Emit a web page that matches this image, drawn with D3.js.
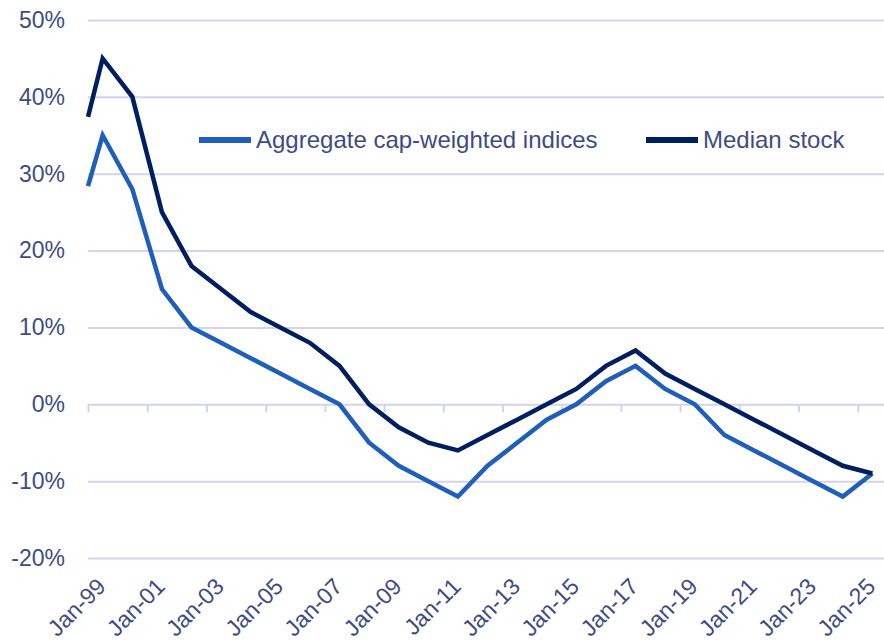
<!DOCTYPE html>
<html>
<head>
<meta charset="utf-8">
<script src="https://cdn.jsdelivr.net/npm/d3@7"></script>
<style>
  html, body { margin: 0; padding: 0; background: #fff; }
  .chart-holder { width: 884px; height: 642px; }
</style>
</head>
<body>
<div class="chart-holder"></div>
<script>
// observation dates (first point Jan-99, then mid-year readings)
const dates = [
  '1999-01-01', '1999-07-01', '2000-07-01', '2001-07-01', '2002-07-01', '2003-07-01',
  '2004-07-01', '2005-07-01', '2006-07-01', '2007-07-01', '2008-07-01', '2009-07-01',
  '2010-07-01', '2011-07-01', '2012-07-01', '2013-07-01', '2014-07-01', '2015-07-01',
  '2016-07-01', '2017-07-01', '2018-07-01', '2019-07-01', '2020-07-01', '2021-07-01',
  '2022-07-01', '2023-07-01', '2024-07-01', '2025-07-01'
];
// values in %
const aggregate = [28.4, 35, 28, 15, 10, 8, 6, 4, 2, 0, -5, -8, -10, -12, -8, -5, -2, 0, 3, 5, 2, 0, -4, -6, -8, -10, -12, -9];
const median = [37.4, 45, 40, 25, 18, 15, 12, 10, 8, 5, 0, -3, -5, -6, -4, -2, 0, 2, 5, 7, 4, 2, 0, -2, -4, -6, -8, -9];

const yTicks = [-20, -10, 0, 10, 20, 30, 40, 50];
const xTickDates = ['1999-01-01', '2001-01-01', '2003-01-01', '2005-01-01', '2007-01-01', '2009-01-01', '2011-01-01',
  '2013-01-01', '2015-01-01', '2017-01-01', '2019-01-01', '2021-01-01', '2023-01-01', '2025-01-01'];

const seriesNames = ['Aggregate cap-weighted indices', 'Median stock'];
const colors = ['#1f5fb9', '#001f5f'];
const textColor = '#3e4c84';
const gridColor = '#d2d5e9';

const parse = d3.timeParse('%Y-%m-%d');
const fmt = d3.timeFormat('Jan-%y');

const width = 884, height = 642;
const margin = {left: 88, right: 884, top: 20, bottom: 558};

const svg = d3.select('.chart-holder')
  .append('svg')
  .attr('width', width)
  .attr('height', height)
  .style('font-family', '"Liberation Sans", Arial, sans-serif');

const xScale = d3.scaleTime()
  .domain([parse('1999-01-01'), parse('2025-01-01')])
  .range([margin.left, 857.7]);
const yScale = d3.scaleLinear()
  .domain([-20, 50])
  .range([margin.bottom, margin.top]);

// gridlines + y labels
svg.append('g')
  .attr('transform', `translate(${margin.left},0)`)
  .call(d3.axisLeft(yScale)
    .tickValues(yTicks)
    .tickSize(-(margin.right - margin.left))
    .tickPadding(23)
    .tickFormat(d => d + '%'))
  .call(g => g.select('.domain').remove())
  .call(g => g.selectAll('.tick line').attr('stroke', gridColor).attr('stroke-width', 2))
  .call(g => g.selectAll('.tick text')
    .attr('fill', textColor)
    .style('font-size', '23px'));

// x axis ticks sit on the 0% line
svg.append('g')
  .attr('transform', `translate(0,${yScale(0)})`)
  .call(d3.axisBottom(xScale)
    .tickValues(xTickDates.map(parse))
    .tickSize(8)
    .tickFormat(''))
  .call(g => g.select('.domain').remove())
  .call(g => g.selectAll('.tick line').attr('stroke', gridColor).attr('stroke-width', 2));

// x labels, rotated, along the bottom
svg.append('g')
  .selectAll('text')
  .data(xTickDates.map(parse))
  .enter().append('text')
    .attr('transform', d => `translate(${xScale(d) + 19},${margin.bottom + 30}) rotate(-45)`)
    .attr('text-anchor', 'end')
    .attr('fill', textColor)
    .style('font-size', '23px')
    .text(d => fmt(d));

const line = d3.line()
  .x((d, i) => xScale(parse(dates[i])))
  .y(d => yScale(d));

[aggregate, median].forEach((vals, i) => {
  svg.append('path')
    .datum(vals)
    .attr('fill', 'none')
    .attr('stroke', colors[i])
    .attr('stroke-width', 4.5)
    .attr('stroke-linejoin', 'miter')
    .attr('d', line);
});

// legend
const legendX = [199, 646];
const legend = svg.append('g');
seriesNames.forEach((name, i) => {
  legend.append('line')
    .attr('x1', legendX[i]).attr('x2', legendX[i] + 52)
    .attr('y1', 140).attr('y2', 140)
    .attr('stroke', colors[i])
    .attr('stroke-width', 6);
  legend.append('text')
    .attr('x', legendX[i] + 57)
    .attr('y', 147.5)
    .attr('fill', textColor)
    .style('font-size', '24px')
    .text(name);
});
</script>
</body>
</html>
